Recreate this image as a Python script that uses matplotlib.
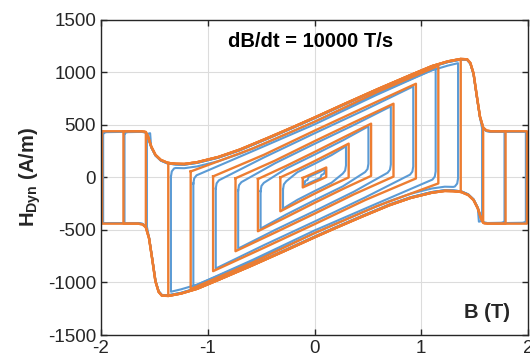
import numpy as np
import matplotlib.pyplot as plt

plt.rcParams['font.family'] = ['Liberation Sans', 'DejaVu Sans']
plt.rcParams['mathtext.fontset'] = 'custom'
plt.rcParams['mathtext.rm'] = 'Liberation Sans'
plt.rcParams['mathtext.bf'] = 'Liberation Sans:bold'
plt.rcParams['axes.unicode_minus'] = False

# loop amplitudes (T)
minor_bm = [0.11, 0.32, 0.53, 0.74, 0.95, 1.16]
major_bm = [1.37, 1.58, 1.79, 1.99]

# minor loops: upper branch H (A/m) at B = -bm, -bm/2, 0, bm/2, bm
h_start = [-5, 0, -15, -8, 10, 57]
h_q1 = [20, 75, 110, 160, 215, 275]
h_mid = [45, 155, 242, 345, 445, 530]
h_q3 = [70, 238, 378, 525, 670, 810]
h_end = [95, 322, 512, 702, 892, 1063]

# major loop upper branch (B increasing)
env_b = [-1.99, -1.79, -1.62, -1.59, -1.58, -1.56, -1.53, -1.49, -1.44, -1.38, -1.37,
         -1.30, -1.22, -1.10, -0.90, -0.70, -0.44, -0.20, 0.00, 0.27, 0.59, 0.90,
         1.10, 1.25, 1.37, 1.43, 1.46, 1.49, 1.52, 1.55, 1.58, 1.61, 1.65, 1.79, 1.99]
env_h = [440, 440, 440, 436, 430, 390, 295, 215, 167, 141, 138,
         130, 128, 145, 195, 265, 375, 480, 570, 695, 840, 975,
         1060, 1105, 1128, 1125, 1090, 990, 780, 580, 475, 448, 440, 440, 440]

orange = '#ED7D31'
blue = '#5B9BD5'


def closed_loop(ub, uh):
    # lower branch is the point mirror of the upper branch
    b = list(ub) + [-x for x in ub] + [ub[0]]
    h = list(uh) + [-y for y in uh] + [uh[0]]
    return b, h


def blue_branch(ub, uh, shift, off, rnd):
    bm = -ub[0] - shift
    hs = uh[0] - off
    b = [-bm, -bm + 0.008, -bm + 0.03]
    h = [hs - rnd, hs - rnd * 0.45, hs - rnd * 0.13]
    for x, y in zip(ub[1:-1], uh[1:-1]):
        if -bm + 0.03 <= x < bm:
            b.append(x)
            h.append(y - (off if abs(x) < 1.56 else 6))
    b.append(bm)
    h.append(uh[-1] - off)
    return b, h


upper = []
for i, bm in enumerate(minor_bm):
    ub = [-bm, -bm / 2, 0, bm / 2, bm]
    uh = [h_start[i], h_q1[i], h_mid[i], h_q3[i], h_end[i]]
    if bm < 0.2:
        upper.append((ub, uh, 0.015, 15, 30))
    else:
        upper.append((ub, uh, 0.025, 25, 90))
for bm in major_bm:
    ub = [b for b in env_b if abs(b) <= bm + 1e-9]
    uh = [h for b, h in zip(env_b, env_h) if abs(b) <= bm + 1e-9]
    if bm < 1.5:
        upper.append((ub, uh, 0.025, 40, 90))
    else:
        upper.append((ub, uh, 0.01, 6, 20))

fig = plt.figure(figsize=(5.3, 3.61), dpi=100)
ax = fig.add_axes([0.1906, 0.072, 0.8056, 0.8729])

for ub, uh, sh, off, rnd in upper:
    bb, bh = blue_branch(ub, uh, sh, off, rnd)
    x, y = closed_loop(bb, bh)
    ax.plot(x, y, color=blue, lw=1.5)
for ub, uh, sh, off, rnd in upper:
    x, y = closed_loop(ub, uh)
    ax.plot(x, y, color=orange, lw=1.7)

ax.set_xlim(-2, 2)
ax.set_ylim(-1500, 1500)
ax.set_xticks([-2, -1, 0, 1, 2])
ax.set_yticks([-1500, -1000, -500, 0, 500, 1000, 1500])
ax.grid(True, color='#dcdcdc', lw=0.8)
ax.set_axisbelow(True)
ax.tick_params(direction='in', top=True, right=True, labelsize=13.5,
               colors='#262626', length=4, width=1)
for s in ax.spines.values():
    s.set_color('#262626')
    s.set_linewidth(1)

ax.text(-0.04, 1290, 'dB/dt = 10000 T/s', ha='center', va='center',
        fontsize=14.5, fontweight='bold')
ax.text(1.62, -1285, 'B (T)', ha='center', va='center',
        fontsize=14.5, fontweight='bold', color='#262626')
ax.set_ylabel(r'$\mathbf{H_{Dyn}}$ (A/m)', fontsize=14.5, fontweight='bold',
              color='#262626')
ax.yaxis.set_label_coords(-0.135, 0.5)

fig.savefig('out.png', dpi=100)
